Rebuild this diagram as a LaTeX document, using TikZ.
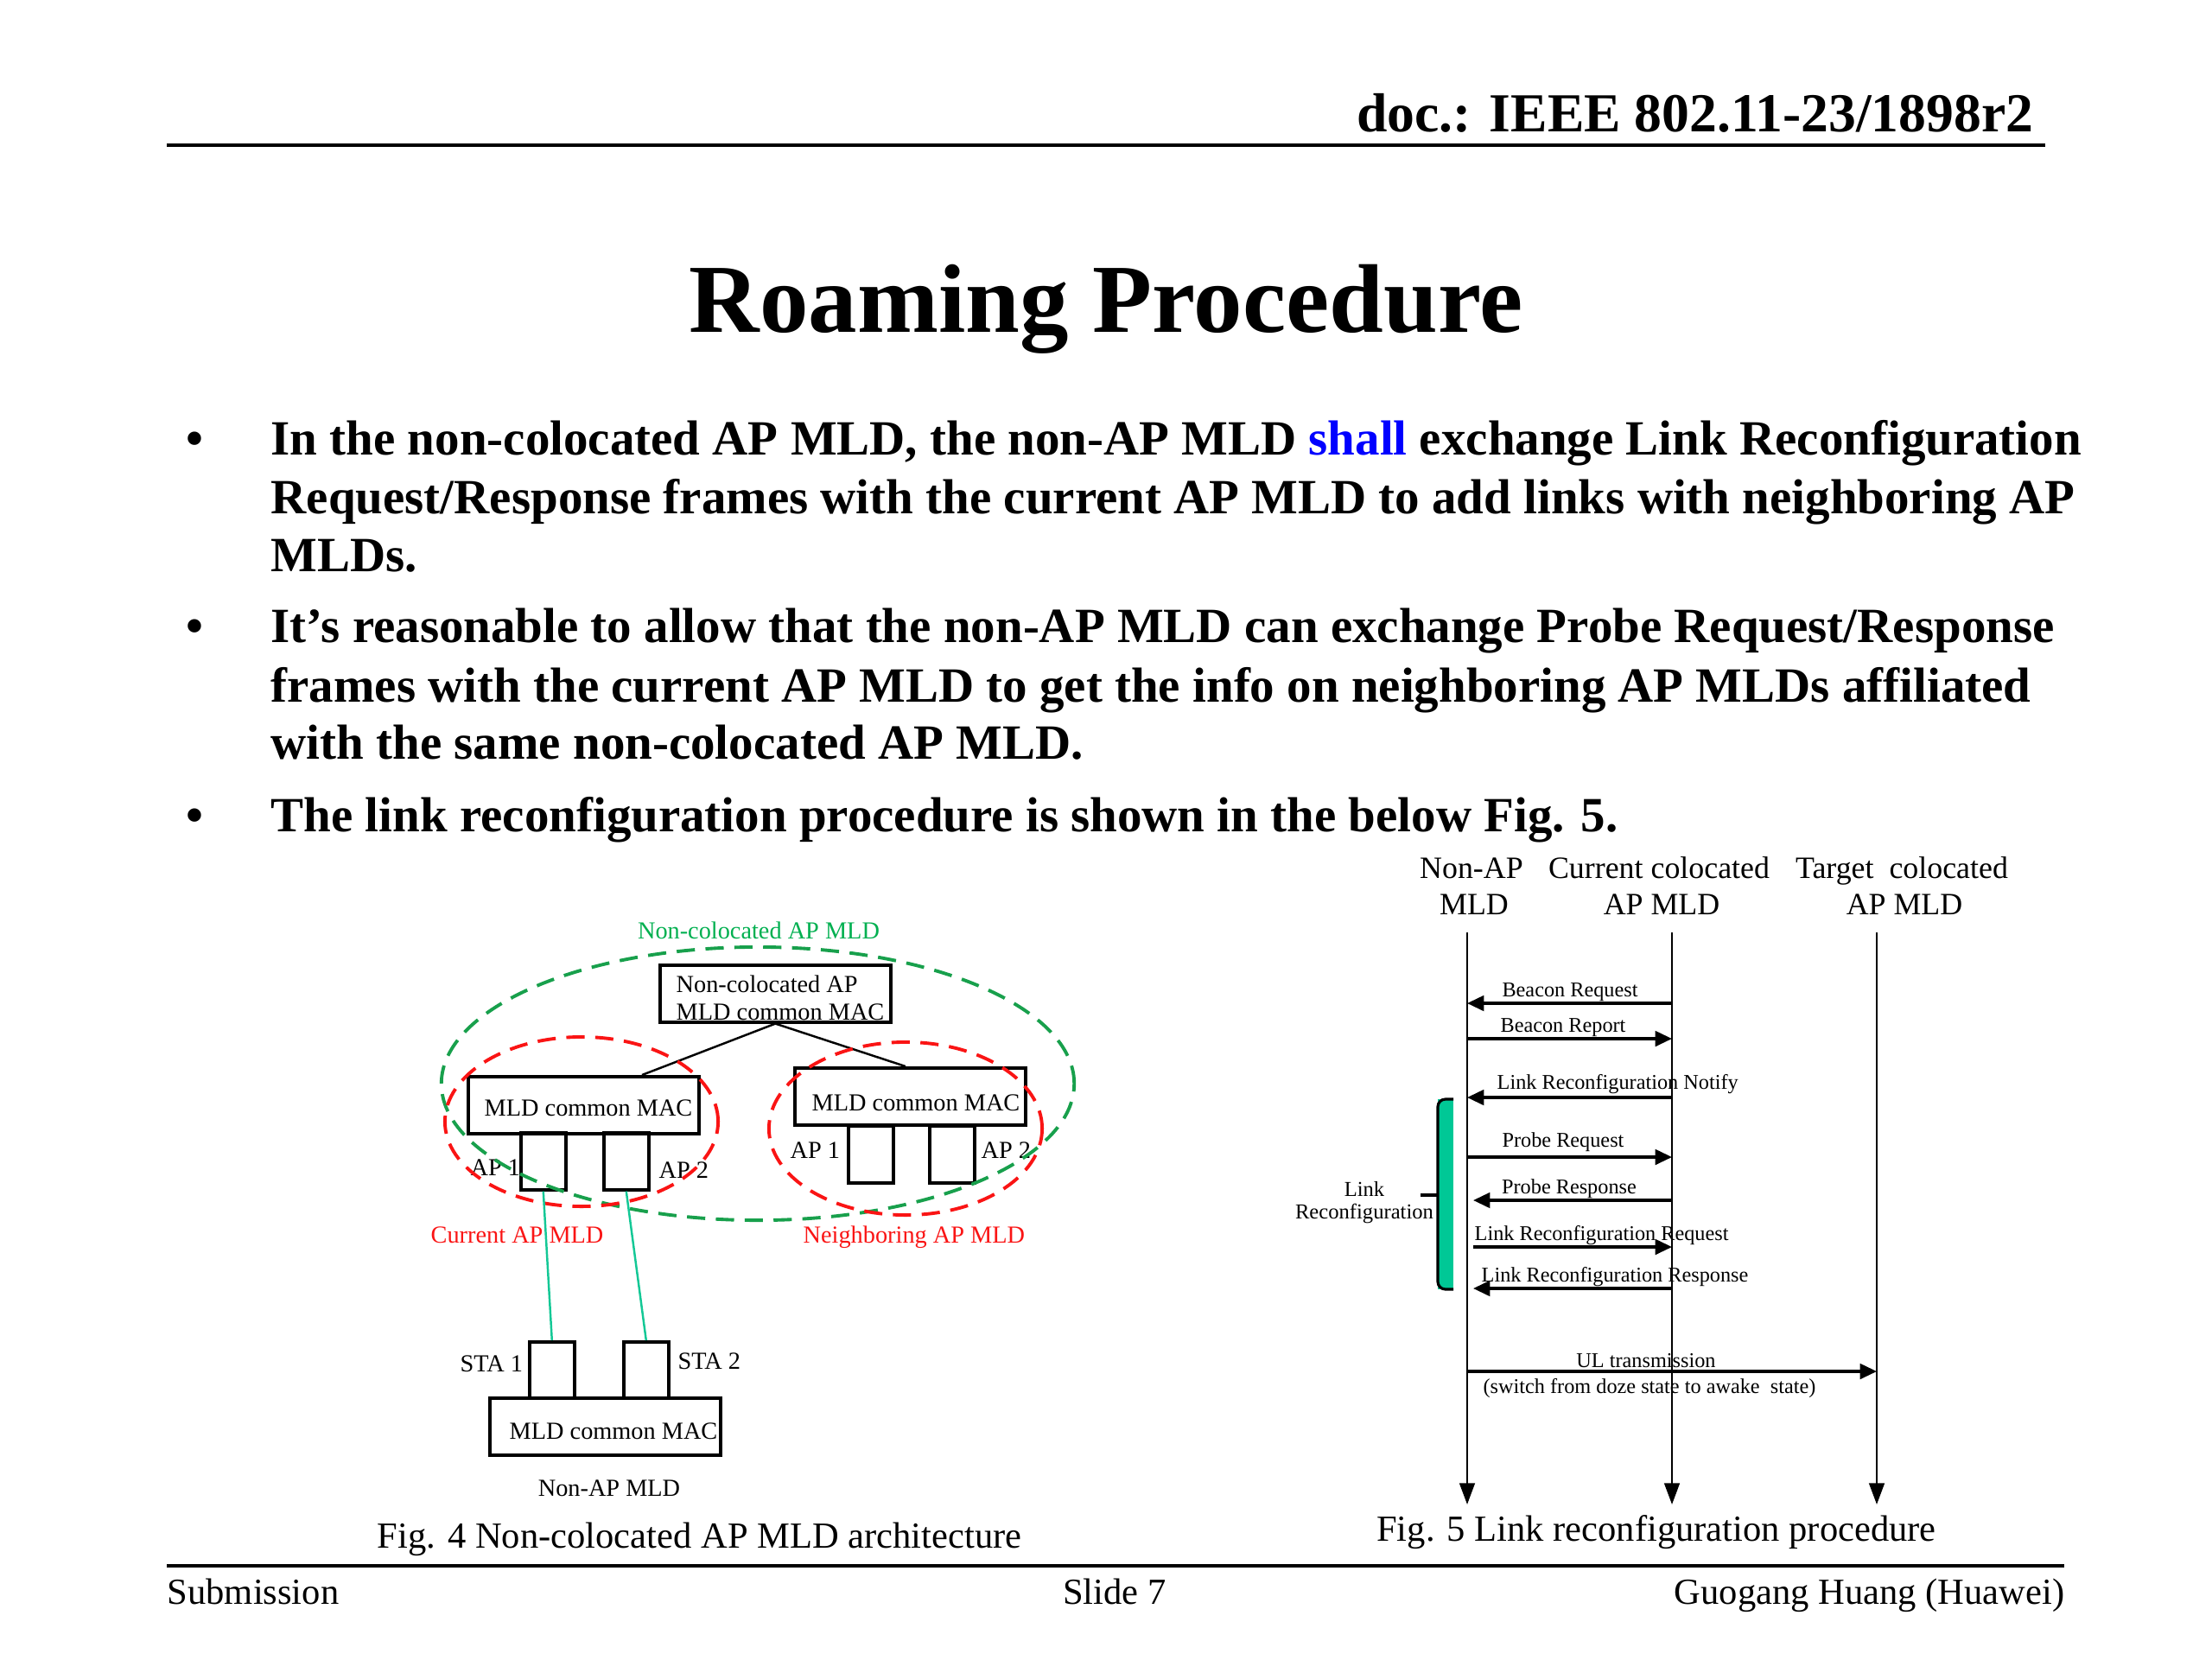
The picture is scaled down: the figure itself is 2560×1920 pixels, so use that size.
\documentclass[tikz,border=0pt]{standalone}
\usepackage{fontspec}
\setmainfont{Liberation Serif}
\usetikzlibrary{shapes.geometric,arrows.meta,calc}
\definecolor{dgreen}{RGB}{24,160,76}
\definecolor{lgreen}{RGB}{0,176,80}
\definecolor{myred}{RGB}{250,20,20}
\definecolor{tealc}{RGB}{0,200,150}
\definecolor{tline}{RGB}{20,200,150}
\newcommand\fsz[1]{\fontsize{#1}{#1}\selectfont}
\begin{document}
\begin{tikzpicture}[x=0.01cm,y=-0.01cm,
  txt/.style={inner sep=0pt, anchor=base west},
  ctxt/.style={inner sep=0pt, anchor=base},
  rtxt/.style={inner sep=0pt, anchor=base east},
  btxt/.style={txt, font=\fsz{16.2}\bfseries},
  bdot/.style={ctxt, font=\fsz{16.2}\bfseries},
  box/.style={draw, line width=1pt, inner sep=0pt, anchor=north west, minimum width=2.67cm, minimum height=0.66cm},
  smallbox/.style={draw, line width=1pt, inner sep=0pt, anchor=north west, minimum width=0.52cm, minimum height=0.66cm},
  lbl/.style={txt, font=\fsz{8.05}},
  clbl/.style={ctxt, font=\fsz{8.05}},
  gdash/.style={draw=dgreen, line width=1.1pt, dash pattern=on 6pt off 3.5pt, ellipse, inner sep=0pt},
  rdash/.style={draw=myred, line width=1.1pt, dash pattern=on 6pt off 3.5pt, ellipse, inner sep=0pt},
  link/.style={draw=tline, line width=0.7pt},
  msg/.style={line width=0.9pt, -{Triangle[length=5.5pt,width=5pt]}},
  life/.style={line width=0.75pt, -{Triangle[length=7pt,width=5pt]}},
  mtxt/.style={ctxt, font=\fsz{6.9}},
  mltxt/.style={txt, font=\fsz{6.9}},
  htxt/.style={ctxt, font=\fsz{10.2}},
  ftxt/.style={font=\fsz{12.1}, inner sep=0pt}
]
\useasboundingbox (0,0) rectangle (2560,1920);
\fill[white] (0,0) rectangle (2560,1920);

% header
\node[rtxt, font=\fsz{18.1}\bfseries] (doc) at (2354,152) {doc.: IEEE 802.11-23/1898r2};
\coordinate (hl1) at (193,168);
\coordinate (hl2) at (2367,168);
\draw[line width=1.4pt] (hl1) -- (hl2);

% title
\node[ctxt, font=\fsz{32.1}\bfseries] (title) at (1280,384) {Roaming Procedure};

% bullets
\node[bdot] (b1) at (225,526) {•};
\node[btxt] (l1) at (313,526) {In the non-colocated AP MLD, the non-AP MLD {\color{blue}shall} exchange Link Reconfiguration};
\node[btxt] (l2) at (313,594) {Request/Response frames with the current AP MLD to add links with neighboring AP};
\node[btxt] (l3) at (313,661) {MLDs.};
\node[bdot] (b2) at (225,743) {•};
\node[btxt] (l4) at (313,743) {It’s reasonable to allow that the non-AP MLD can exchange Probe Request/Response};
\node[btxt] (l5) at (313,812) {frames with the current AP MLD to get the info on neighboring AP MLDs affiliated};
\node[btxt] (l6) at (313,878) {with the same non-colocated AP MLD.};
\node[bdot] (b3) at (225,962) {•};
\node[btxt] (l7) at (313,962) {The link reconfiguration procedure is shown in the below Fig. 5.};

% ---------------- Fig. 4 ----------------
\node[ctxt, font=\fsz{8.05}, text=lgreen] (glbl) at (878,1086) {Non-colocated AP MLD};

\node[box] (top) at (762,1115) {};
\node[lbl] (topt1) at (782,1148) {Non-colocated AP};
\node[lbl] (topt2) at (782,1180) {MLD common MAC};

\node[box] (lbox) at (540,1244) {};
\node[lbl] (lboxt) at (560,1291) {MLD common MAC};
\node[box] (rbox) at (918,1234) {};
\node[lbl] (rboxt) at (939,1285) {MLD common MAC};

\node[smallbox] (lap1) at (601,1309) {};
\node[smallbox] (lap2) at (697,1309) {};
\node[smallbox] (rap1) at (980,1301) {};
\node[smallbox] (rap2) at (1074,1301) {};

\node[lbl] (lap1t) at (544,1360) {AP 1};
\node[lbl] (lap2t) at (762,1363) {AP 2};
\node[lbl] (rap1t) at (914,1340) {AP 1};
\node[lbl] (rap2t) at (1135,1340) {AP 2};

\draw[line width=0.7pt] (top.south) -- ($(lbox.north west)!0.75!(lbox.north east)$);
\draw[line width=0.7pt] (top.south) -- ($(rbox.north west)!0.48!(rbox.north east)$);

\node[gdash, minimum width=7.32cm, minimum height=3.16cm] (gell) at (877,1254) {};
\node[rdash, minimum width=3.16cm, minimum height=1.96cm] (rell1) at (673,1298) {};
\node[rdash, minimum width=3.16cm, minimum height=2.0cm] (rell2) at (1048,1306) {};

\node[txt, font=\fsz{8.05}, text=myred] (curt) at (498,1438) {Current AP MLD};
\node[txt, font=\fsz{8.05}, text=myred] (neit) at (929,1438) {Neighboring AP MLD};

\node[smallbox, minimum height=0.65cm] (sta1) at (611,1551) {};
\node[smallbox, minimum height=0.65cm] (sta2) at (720,1551) {};
\node[lbl] (sta1t) at (532,1587) {STA 1};
\node[lbl] (sta2t) at (784,1584) {STA 2};
\draw[link] (lap1.south) -- (sta1.north);
\draw[link] (lap2.south) -- (sta2.north);

\node[box] (bbox) at (565,1616) {};
\node[lbl] (bboxt) at (589,1665) {MLD common MAC};
\node[clbl] (napt) at (705,1731) {Non-AP MLD};

\node[txt, font=\fsz{12.1}] (cap4) at (436,1791) {Fig. 4 Non-colocated AP MLD architecture};

% ---------------- Fig. 5 ----------------
\node[htxt] (h1a) at (1703,1016) {Non-AP};
\node[htxt] (h1b) at (1706,1058) {MLD};
\node[htxt] (h2a) at (1920,1016) {Current colocated};
\node[htxt] (h2b) at (1923,1058) {AP MLD};
\node[htxt] (h3a) at (2201,1016) {Target\ \ colocated};
\node[htxt] (h3b) at (2204,1058) {AP MLD};

\coordinate (nt) at (1698,1079);
\coordinate (nb) at (1698,1741);
\coordinate (ct) at (1935,1079);
\coordinate (cb) at (1935,1741);
\coordinate (tt) at (2172,1079);
\coordinate (tb) at (2172,1741);
\draw[life] (nt) -- (nb);
\draw[life] (ct) -- (cb);
\draw[life] (tt) -- (tb);

\coordinate (m1) at (0,1161);
\coordinate (m2) at (0,1202);
\coordinate (m3) at (0,1270);
\coordinate (m4) at (0,1339);
\coordinate (m5) at (0,1389);
\coordinate (m6) at (0,1443);
\coordinate (m7) at (0,1491);
\coordinate (m8) at (0,1587);

\draw[msg] (m1 -| ct) -- (m1 -| nt);
\draw[msg] (m2 -| nt) -- (m2 -| ct);
\draw[msg] (m3 -| ct) -- (m3 -| nt);
\draw[msg] (m4 -| nt) -- (m4 -| ct);
\draw[msg] (m5 -| ct) -- ([xshift=2pt]m5 -| nt);
\draw[msg] ([xshift=2pt]m6 -| nt) -- (m6 -| ct);
\draw[msg] (m7 -| ct) -- ([xshift=2pt]m7 -| nt);
\draw[msg] (m8 -| nt) -- (m8 -| tt);

\node[mtxt] (t1) at (1817,1153) {Beacon Request};
\node[mtxt] (t2) at (1809,1194) {Beacon Report};
\node[mltxt] (t3) at (1732,1260) {Link Reconfiguration Notify};
\node[mtxt] (t4) at (1809,1327) {Probe Request};
\node[mtxt] (t5) at (1816,1381) {Probe Response};
\node[mltxt] (t6) at (1706,1435) {Link Reconfiguration Request};
\node[mltxt] (t7) at (1714,1483) {Link Reconfiguration Response};
\node[mtxt] (t8a) at (1905,1582) {UL transmission};
\node[mtxt] (t8b) at (1909,1612) {(switch from doze state to awake\ \ state)};

% link reconfiguration bracket
\fill[tealc] (1664,1272) rectangle (1682,1492);
\draw[line width=0.9pt, rounded corners=2.5pt] (1682,1272) -- (1664,1272) -- (1664,1492) -- (1682,1492);
\coordinate (tick1) at (1644,1383);
\coordinate (tick2) at (1664,1383);
\draw[line width=0.9pt] (tick1) -- (tick2);
\node[ctxt, font=\fsz{7}] (lr1) at (1579,1384) {Link};
\node[ctxt, font=\fsz{7}] (lr2) at (1579,1410) {Reconfiguration};

\node[ctxt, font=\fsz{12.1}] (cap5) at (1917,1783) {Fig. 5 Link reconfiguration procedure};

% footer
\coordinate (fl1) at (193,1812);
\coordinate (fl2) at (2389,1812);
\draw[line width=1.1pt] (fl1) -- (fl2);
\node[ftxt, anchor=base west] (sub) at (193,1856) {Submission};
\node[ftxt, anchor=base] (slide) at (1290,1856) {Slide 7};
\node[ftxt, anchor=base east] (auth) at (2390,1856) {Guogang Huang (Huawei)};
\end{tikzpicture}
\end{document}
